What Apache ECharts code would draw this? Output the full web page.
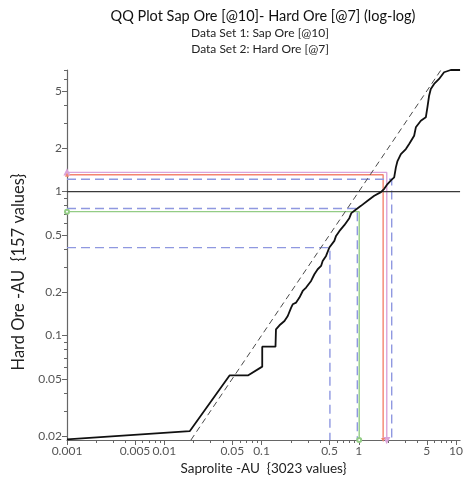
<!DOCTYPE html>
<html>
<head>
<meta charset="utf-8">
<script src="https://cdn.jsdelivr.net/npm/echarts@6/dist/echarts.min.js"></script>
<style>
  html, body { margin: 0; padding: 0; background: #fff; }
  #chart { width: 466px; height: 484px; }
</style>
</head>
<body>
<div id="chart"></div>
<script>
// Axis ranges (log-log)
const xRange = [0.001, 11];
const yRange = [0.0188, 7];

// Labelled tick values
const xTickLabels = [0.001, 0.005, 0.01, 0.05, 0.1, 0.5, 1, 5, 10];
const yTickLabels = [0.02, 0.05, 0.1, 0.2, 0.5, 1, 2, 5];

// Paired quantiles: Saprolite (x) against Hard Ore (y)
const sapQuantiles = [0.001, 0.01826, 0.0469, 0.0724, 0.1017, 0.1017, 0.1392, 0.1408, 0.153, 0.1721,
  0.1861, 0.2016, 0.2094, 0.2269, 0.2453, 0.2653, 0.2874, 0.3233, 0.3496, 0.3779,
  0.4096, 0.4253, 0.4609, 0.4982, 0.5607, 0.5838, 0.631, 0.7101, 0.7991, 0.8379,
  0.9361, 1.0534, 1.2311, 1.4421, 1.6893, 1.8258, 1.974, 2.154, 2.312, 2.407,
  2.5, 2.709, 3.049, 3.295, 3.709, 3.862, 4.345, 4.889, 5.077, 5.286,
  5.502, 5.951, 6.693, 7.533, 8.823, 11];
const hardQuantiles = [0.019, 0.02164, 0.0528, 0.0528, 0.0608, 0.0837, 0.0837, 0.1104, 0.1178, 0.1262,
  0.1367, 0.1564, 0.1649, 0.1694, 0.1835, 0.204, 0.2154, 0.2394, 0.2666, 0.2888,
  0.3045, 0.33, 0.3574, 0.4089, 0.4546, 0.4925, 0.5311, 0.5845, 0.6541, 0.7086,
  0.7518, 0.7965, 0.863, 0.9349, 0.992, 1.046, 1.128, 1.202, 1.255, 1.474,
  1.63, 1.824, 1.976, 2.141, 2.445, 2.798, 3.11, 3.284, 3.854, 4.642,
  5.168, 5.6, 6.066, 6.753, 7, 7];

// Statistic markers (Saprolite value, Hard Ore value)
const markSap  = [1.94, 1.78, 2.18, 0.966, 1.01, 0.505];
const markHard = [1.36, 1.31, 1.22, 0.764, 0.726, 0.408];

// Marker styling
const markColor  = ['#d9a3da', '#f4846e', '#8f98e0', '#8f98e0', '#93cc85', '#8f98e0'];
const markDashed = [false, false, true, true, false, true];
const markSymbol = ['emptyTriangle', 'triangle', 'none', 'none', 'emptyCircle', 'none'];

const FONT = 'Lato';

// minor ticks at 2..9 of each decade
function minorTicks(range) {
  const out = [];
  for (let e = -4; e <= 2; e++) {
    for (let m = 2; m <= 9; m++) {
      const v = +(m * Math.pow(10, e)).toPrecision(3);
      if (v >= range[0] && v <= range[1]) out.push(v);
    }
  }
  return out;
}

const fmt = v => String(+Number(v).toPrecision(4));

const series = [];

// statistic marker L-lines
markSap.forEach((sx, i) => {
  const sym = markSymbol[i];
  series.push({
    type: 'line',
    xAxisIndex: 0, yAxisIndex: 0,
    symbol: 'none',
    silent: true,
    z: 2,
    lineStyle: { color: markColor[i], width: 1.4, type: markDashed[i] ? [9, 5] : 'solid' },
    itemStyle: { color: markColor[i] },
    data: [
      { value: [xRange[0], markHard[i]], symbol: sym, symbolSize: 4 },
      [sx, markHard[i]],
      { value: [sx, yRange[0]], symbol: sym, symbolSize: 4, symbolRotate: 180 }
    ]
  });
});

// unit reference y = 1
series.push({
  type: 'line', symbol: 'none', silent: true, z: 3,
  lineStyle: { color: '#3a3a3a', width: 1.2 },
  data: [[xRange[0], 1], [xRange[1], 1]]
});

// 1:1 line
series.push({
  type: 'line', symbol: 'none', silent: true, z: 3,
  lineStyle: { color: '#4a4a4a', width: 1, type: [6, 4] },
  data: [[yRange[0], yRange[0]], [yRange[1], yRange[1]]]
});

// QQ curve
series.push({
  type: 'line', symbol: 'none', silent: true, z: 4,
  lineStyle: { color: '#111', width: 1.8 },
  data: sapQuantiles.map((x, i) => [x, hardQuantiles[i]])
});

const chart = echarts.init(document.getElementById('chart'), null, { renderer: 'canvas' });
chart.setOption({
  animation: false,
  backgroundColor: '#fff',
  title: [
    {
      text: 'QQ Plot Sap Ore [@10]- Hard Ore [@7] (log-log)',
      left: 263, top: 9, padding: 0, textAlign: 'center',
      textStyle: { fontFamily: FONT, fontSize: 14.5, fontWeight: 'normal', color: '#111' }
    },
    {
      text: 'Data Set 1: Sap Ore [@10]',
      left: 260, top: 27, padding: 0, textAlign: 'center',
      textStyle: { fontFamily: FONT, fontSize: 12, fontWeight: 'normal', color: '#222' }
    },
    {
      text: 'Data Set 2: Hard Ore [@7]',
      left: 260, top: 43, padding: 0, textAlign: 'center',
      textStyle: { fontFamily: FONT, fontSize: 12, fontWeight: 'normal', color: '#222' }
    }
  ],
  grid: { left: 67, right: 5, top: 70, bottom: 44, containLabel: false },
  xAxis: [
    {
      type: 'log', logBase: 10, min: xRange[0], max: xRange[1],
      position: 'bottom',
      name: 'Saprolite -AU  {3023 values}',
      nameLocation: 'middle', nameGap: 19,
      nameTextStyle: { fontFamily: FONT, fontSize: 13.5, color: '#222' },
      axisLine: { show: true, onZero: false, lineStyle: { color: '#666', width: 1.2 } },
      axisTick: { show: true, length: 5, customValues: xTickLabels, lineStyle: { color: '#666' } },
      axisLabel: { customValues: xTickLabels, formatter: fmt, fontFamily: FONT, fontSize: 12, color: '#555', margin: 5 },
      splitLine: { show: false }
    },
    {
      type: 'log', logBase: 10, min: xRange[0], max: xRange[1],
      position: 'bottom',
      axisLine: { show: false, onZero: false },
      axisTick: { show: true, length: 3, customValues: minorTicks(xRange), lineStyle: { color: '#666' } },
      axisLabel: { show: false },
      splitLine: { show: false }
    }
  ],
  yAxis: [
    {
      type: 'log', logBase: 10, min: yRange[0], max: yRange[1],
      position: 'left',
      name: 'Hard Ore -AU  {157 values}',
      nameLocation: 'middle', nameGap: 40, nameRotate: 90,
      nameTextStyle: { fontFamily: FONT, fontSize: 16.5, color: '#222', padding: [0, 34, 0, 0] },
      axisLine: { show: true, onZero: false, lineStyle: { color: '#666', width: 1.2 } },
      axisTick: { show: true, length: 5, customValues: yTickLabels, lineStyle: { color: '#666' } },
      axisLabel: { customValues: yTickLabels, formatter: fmt, fontFamily: FONT, fontSize: 12, color: '#555', margin: 5 },
      splitLine: { show: false }
    },
    {
      type: 'log', logBase: 10, min: yRange[0], max: yRange[1],
      position: 'left',
      axisLine: { show: false, onZero: false },
      axisTick: { show: true, length: 3, customValues: minorTicks(yRange), lineStyle: { color: '#666' } },
      axisLabel: { show: false },
      splitLine: { show: false }
    }
  ],
  series: series
});
</script>
</body>
</html>
